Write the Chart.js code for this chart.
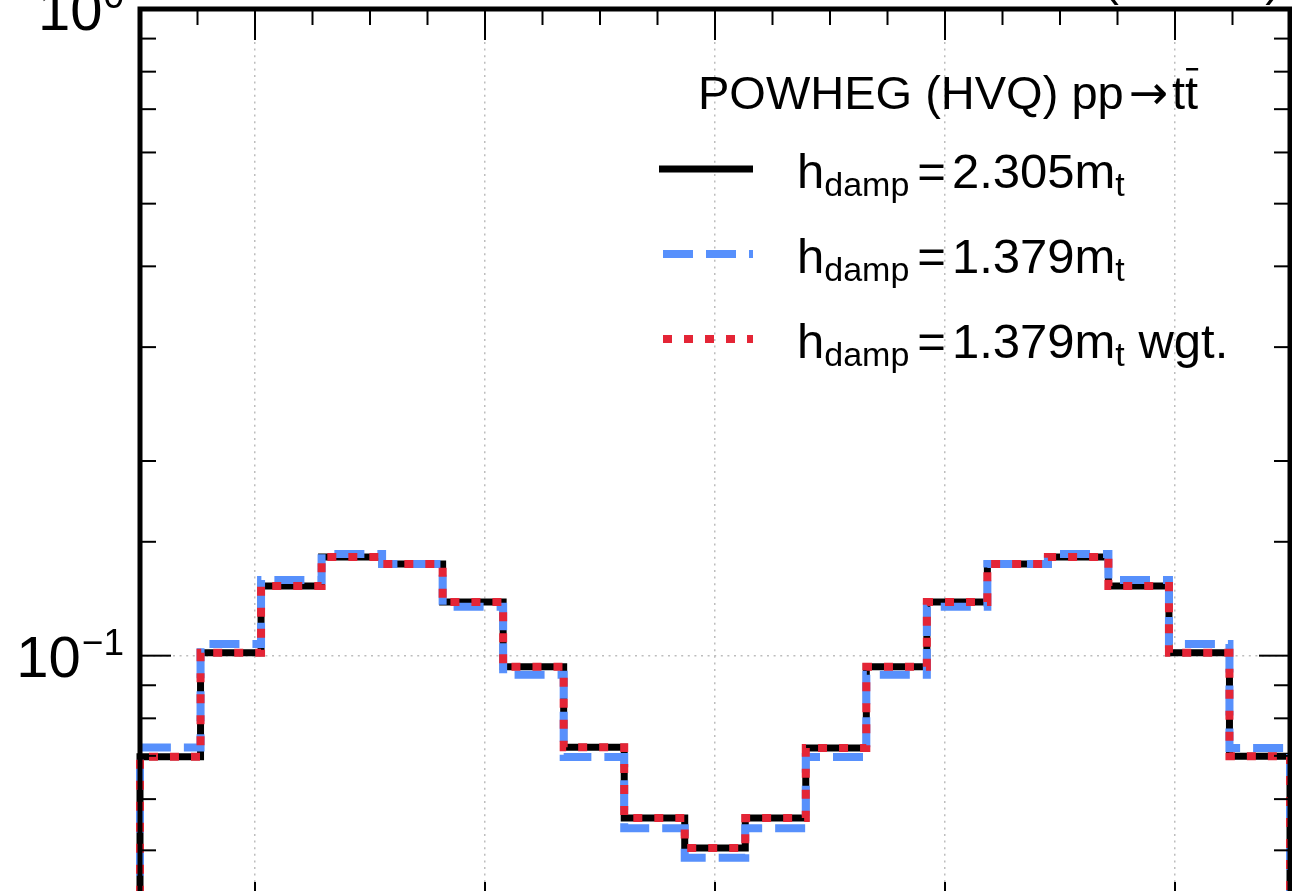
<!DOCTYPE html>
<html>
<head>
<meta charset="utf-8">
<script src="https://cdn.jsdelivr.net/npm/chart.js@4.4.0/dist/chart.umd.min.js"></script>
<style>
  html, body { margin: 0; padding: 0; background: #fff; }
  #wrap { position: relative; width: 1292px; height: 891px; overflow: hidden; }
  #myChart { position: absolute; left: 0; top: -60px; }
</style>
</head>
<body>
<div id="wrap"><canvas id="myChart" width="1292" height="1000"></canvas></div>
<script>
// bin edges of the histogram (19 bins)
const binEdges = [-2.5, -2.2368, -1.9737, -1.7105, -1.4474, -1.1842, -0.9211, -0.6579, -0.3947, -0.1316,
                  0.1316, 0.3947, 0.6579, 0.9211, 1.1842, 1.4474, 1.7105, 1.9737, 2.2368, 2.5];

// normalised bin contents
const hdamp2305    = [0.0698, 0.1010, 0.1282, 0.1421, 0.1386, 0.1211, 0.0961, 0.0722, 0.0561, 0.0504,
                      0.0561, 0.0720, 0.0961, 0.1211, 0.1386, 0.1421, 0.1282, 0.1010, 0.0699];
const hdamp1379    = [0.0721, 0.1042, 0.1309, 0.1436, 0.1386, 0.1190, 0.0934, 0.0697, 0.0541, 0.0487,
                      0.0541, 0.0697, 0.0934, 0.1190, 0.1386, 0.1436, 0.1309, 0.1042, 0.0720];
const hdamp1379wgt = [0.0698, 0.1010, 0.1282, 0.1421, 0.1386, 0.1211, 0.0961, 0.0722, 0.0561, 0.0504,
                      0.0561, 0.0720, 0.0961, 0.1211, 0.1386, 0.1421, 0.1282, 0.1010, 0.0699];

const seriesLabels = ['2.305', '1.379', '1.379'];
const headerText = 'POWHEG (HVQ) pp';
const energyText = '(13 TeV)';

const FONT = '"Liberation Sans", Arial, Helvetica, sans-serif';
const GRID = '#bdbdbd';
const BLUE = '#5790fc';
const RED = '#e42536';
const FLOOR = 1e-4;

function isDecade(v) {
    let l = Math.log10(v);
    return Math.abs(l - Math.round(l)) < 1e-9;
}
function isWhole(v) {
    return Math.abs(v - Math.round(v)) < 1e-6;
}

// histogram outline: drop to the floor at both outer edges
function stepPoints(vals) {
    let pts = [{x: binEdges[0], y: FLOOR}];
    for (let i = 0; i < vals.length; i++) {
        pts.push({x: binEdges[i], y: vals[i]});
    }
    pts.push({x: binEdges[vals.length], y: vals[vals.length - 1]});
    pts.push({x: binEdges[vals.length], y: FLOOR});
    return pts;
}

function line(ctx, x1, y1, x2, y2) {
    ctx.beginPath();
    ctx.moveTo(x1, y1);
    ctx.lineTo(x2, y2);
    ctx.stroke();
}

function text(ctx, str, size, x, y, family) {
    ctx.font = size + 'px ' + (family || FONT);
    ctx.fillText(str, x, y);
    return x + ctx.measureText(str).width;
}

function width(ctx, str, size) {
    ctx.font = size + 'px ' + FONT;
    return ctx.measureText(str).width;
}

const decorations = {
    id: 'decorations',
    afterDraw(chart) {
        const ctx = chart.ctx;
        const a = chart.chartArea;
        const xs = chart.scales.x;
        const ys = chart.scales.y;
        ctx.save();
        ctx.setLineDash([]);
        ctx.strokeStyle = '#000';
        ctx.fillStyle = '#000';
        ctx.lineWidth = 2;
        ctx.lineCap = 'butt';

        // inward ticks on all four sides
        xs.ticks.forEach(function (t) {
            let x = xs.getPixelForValue(t.value);
            let len = isWhole(t.value) ? 31 : 16;
            line(ctx, x, a.top, x, a.top + len);
            line(ctx, x, a.bottom, x, a.bottom - len);
        });
        ys.ticks.forEach(function (t) {
            let y = ys.getPixelForValue(t.value);
            let len = isDecade(t.value) ? 31 : 16;
            line(ctx, a.left, y, a.left + len, y);
            line(ctx, a.right, y, a.right - len, y);
        });

        // frame
        ctx.lineWidth = 5;
        ctx.strokeRect(a.left, a.top, a.right - a.left, a.bottom - a.top);

        // y tick labels 10^n
        ctx.textAlign = 'left';
        ctx.textBaseline = 'alphabetic';
        ys.ticks.forEach(function (t) {
            if (!isDecade(t.value)) return;
            let y = ys.getPixelForValue(t.value);
            let p = Math.round(Math.log10(t.value));
            let sup = p < 0 ? '\u2212' + (-p) : String(p);
            let w = width(ctx, '10', 58) + width(ctx, sup, 37);
            let x = 123 - w;
            x = text(ctx, '10', 58, x, y + 21);
            text(ctx, sup, 37, x + 1, y - 1);
        });

        // energy label above the frame
        ctx.textAlign = 'right';
        text(ctx, energyText, 47, 1281, a.top - 14);
        ctx.textAlign = 'left';

        // legend header
        const oy = a.top - 9;
        let hy = oy + 109;
        let hx = text(ctx, headerText, 47, 698, hy);
        hx = text(ctx, '\u2192', 47, hx + 5, hy, '"DejaVu Sans", sans-serif');
        let tx = text(ctx, 't', 47, hx + 4, hy);
        let end = text(ctx, 't', 47, tx, hy);
        ctx.fillRect(tx + 1, hy - 41, end - tx - 1, 2.5);

        // legend entries
        const rows = [
            {y: oy + 188, color: '#000', w: 7, dash: [], x0: 659, extra: ''},
            {y: oy + 273, color: BLUE, w: 8, dash: [30, 13], x0: 663, extra: ''},
            {y: oy + 358, color: RED, w: 8, dash: [9, 12], x0: 663, extra: ' wgt.'}
        ];
        rows.forEach(function (r, i) {
            ctx.save();
            ctx.strokeStyle = r.color;
            ctx.lineWidth = r.w;
            ctx.setLineDash(r.dash);
            line(ctx, r.x0, r.y - 19, 753, r.y - 19);
            ctx.restore();
            let x = text(ctx, 'h', 49, 797, r.y);
            x = text(ctx, 'damp', 34, x, r.y + 8);
            x = text(ctx, '=', 49, x + 8, r.y);
            x = text(ctx, seriesLabels[i] + 'm', 49, x + 6, r.y);
            x = text(ctx, 't', 34, x, r.y + 8);
            if (r.extra) text(ctx, r.extra, 49, x, r.y);
        });
        ctx.restore();
    }
};

let ctx = document.getElementById('myChart').getContext('2d');
let myChart = new Chart(ctx, {
    type: 'line',
    data: {
        datasets: [{
            label: 'hdamp = 2.305 mt',
            data: stepPoints(hdamp2305),
            borderColor: '#000000',
            borderWidth: 7,
            order: 3
        }, {
            label: 'hdamp = 1.379 mt',
            data: stepPoints(hdamp1379),
            borderColor: BLUE,
            borderWidth: 8,
            borderDash: [30, 13],
            order: 2
        }, {
            label: 'hdamp = 1.379 mt wgt.',
            data: stepPoints(hdamp1379wgt),
            borderColor: RED,
            borderWidth: 8,
            borderDash: [9, 12],
            order: 1
        }]
    },
    options: {
        responsive: false,
        animation: false,
        events: [],
        layout: {padding: {left: 140, right: 2, top: 69, bottom: 27}},
        elements: {
            line: {stepped: 'before', fill: false, borderJoinStyle: 'miter', borderCapStyle: 'butt', tension: 0},
            point: {radius: 0}
        },
        datasets: {line: {clip: {left: 5, right: 5, top: 0, bottom: 0}}},
        plugins: {
            legend: {display: false},
            tooltip: {enabled: false},
            title: {display: false}
        },
        scales: {
            x: {
                type: 'linear',
                min: -2.5,
                max: 2.5,
                ticks: {display: false, stepSize: 0.25},
                grid: {
                    drawTicks: false,
                    lineWidth: 1.5,
                    color: function (c) { return (c.tick && isWhole(c.tick.value)) ? GRID : 'rgba(0,0,0,0)'; }
                },
                border: {display: false, dash: [2, 4.6]},
                afterFit: function (s) { s.height = 0; }
            },
            y: {
                type: 'logarithmic',
                min: 0.04,
                max: 1,
                ticks: {display: false},
                grid: {
                    drawTicks: false,
                    lineWidth: 1.5,
                    color: function (c) { return (c.tick && isDecade(c.tick.value)) ? GRID : 'rgba(0,0,0,0)'; }
                },
                border: {display: false, dash: [2, 4.6]},
                afterFit: function (s) { s.width = 0; }
            }
        }
    },
    plugins: [decorations]
});
</script>
</body>
</html>
